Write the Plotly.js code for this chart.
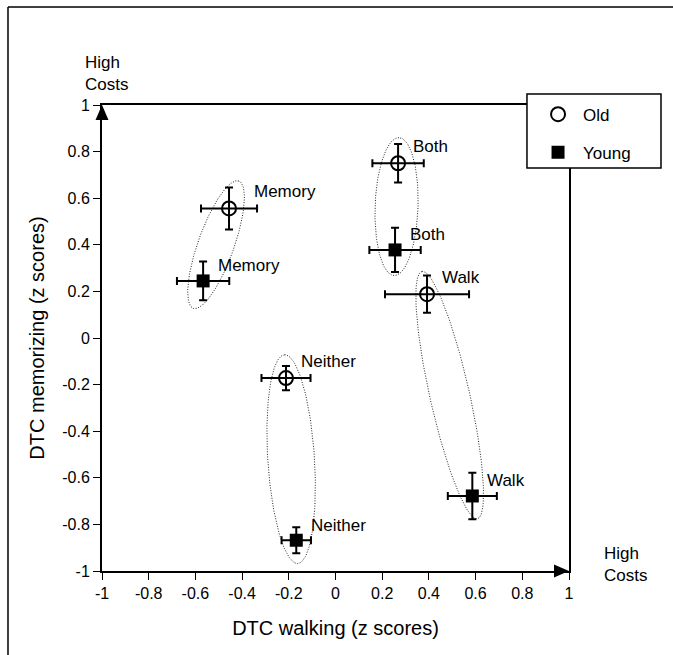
<!DOCTYPE html>
<html>
<head>
<meta charset="utf-8">
<script src="https://cdn.plot.ly/plotly-3.0.1.min.js"></script>
<style>html,body{margin:0;padding:0;background:#fff;}</style>
</head>
<body>
<div id="chart" style="width:673px;height:655px;"></div>
<script>
// Conditions
const conditions = ["Memory", "Both", "Walk", "Neither"];
// Old group means and SEs
const oldX  = [-0.456, 0.268, 0.392, -0.212];
const oldY  = [0.556, 0.750, 0.188, -0.172];
const oldEX = [0.120, 0.110, 0.180, 0.105];
const oldEY = [0.090, 0.083, 0.080, 0.052];
// Young group means and SEs
const youngX  = [-0.567, 0.255, 0.586, -0.168];
const youngY  = [0.245, 0.378, -0.678, -0.868];
const youngEX = [0.112, 0.110, 0.105, 0.063];
const youngEY = [0.083, 0.095, 0.100, 0.056];
// Tick labels
const tickVals = [-1, -0.8, -0.6, -0.4, -0.2, 0, 0.2, 0.4, 0.6, 0.8, 1];
const tickText = ["-1", "-0.8", "-0.6", "-0.4", "-0.2", "0", "0.2", "0.4", "0.6", "0.8", "1"];

const FONT = "Liberation Sans, Arial, Helvetica, sans-serif";

// Dotted ellipses enclosing each Old/Young pair
const ellPad = [0.125, 0.11, 0.10, 0.10];
const ellMinor = [0.077, 0.092, 0.085, 0.10];
const traces = [];
conditions.forEach((c, i) => {
  const cx = (oldX[i] + youngX[i]) / 2, cy = (oldY[i] + youngY[i]) / 2;
  const dx = oldX[i] - youngX[i], dy = oldY[i] - youngY[i];
  const d = Math.hypot(dx, dy);
  const ux = dx / d, uy = dy / d, vx = -uy, vy = ux;
  const a = d / 2 + ellPad[i], b = ellMinor[i];
  const xs = [], ys = [];
  for (let k = 0; k <= 160; k++) {
    const t = 2 * Math.PI * k / 160;
    xs.push(cx + a * Math.cos(t) * ux + b * Math.sin(t) * vx);
    ys.push(cy + a * Math.cos(t) * uy + b * Math.sin(t) * vy);
  }
  traces.push({x: xs, y: ys, mode: "lines", type: "scatter", showlegend: false,
    hoverinfo: "skip", line: {color: "#222", width: 1, dash: "1px,1.6px"}});
});

traces.push({
  name: "Old", x: oldX, y: oldY, mode: "markers", type: "scatter", legendgroup: "o",
  marker: {symbol: "circle-open", size: 14, color: "#000", line: {width: 2, color: "#000"}},
  error_x: {type: "data", array: oldEX, visible: true, color: "#000", thickness: 2, width: 4},
  error_y: {type: "data", array: oldEY, visible: true, color: "#000", thickness: 2, width: 4}
});
traces.push({
  name: "Young", x: youngX, y: youngY, mode: "markers", type: "scatter", legendgroup: "y",
  marker: {symbol: "square", size: 13, color: "#000"},
  error_x: {type: "data", array: youngEX, visible: true, color: "#000", thickness: 2, width: 4},
  error_y: {type: "data", array: youngEY, visible: true, color: "#000", thickness: 2, width: 4}
});

const annotations = [];
conditions.forEach((c, i) => {
  annotations.push({x: oldX[i], y: oldY[i], text: c, showarrow: false, xanchor: "left",
    yanchor: "middle", xshift: i === 0 ? 23 : 13, yshift: 17, font: {family: FONT, size: 17, color: "#000"}});
  annotations.push({x: youngX[i], y: youngY[i], text: c, showarrow: false, xanchor: "left",
    yanchor: "middle", xshift: 13, yshift: 15, font: {family: FONT, size: 17, color: "#000"}});
});
annotations.push({xref: "paper", yref: "paper", x: -0.04, y: 1.067, text: "High<br>Costs",
  showarrow: false, xanchor: "left", yanchor: "middle", align: "left",
  font: {family: FONT, size: 17, color: "#000"}});
annotations.push({xref: "paper", yref: "paper", x: 1.071, y: 0.013, text: "High<br>Costs",
  showarrow: false, xanchor: "left", yanchor: "middle", align: "left",
  font: {family: FONT, size: 17, color: "#000"}});

const shapes = [
  // arrow heads at axis ends
  {type: "path", xref: "paper", yref: "paper", xsizemode: "pixel", ysizemode: "pixel",
   xanchor: 0, yanchor: 1, path: "M -6.5,-15 L 6.5,-15 L 0,0 Z", fillcolor: "#000", line: {width: 0}},
  {type: "path", xref: "paper", yref: "paper", xsizemode: "pixel", ysizemode: "pixel",
   xanchor: 1, yanchor: 0, path: "M -15,-6.5 L -15,6.5 L 0,0 Z", fillcolor: "#000", line: {width: 0}},
  // legend box
  {type: "rect", xref: "paper", yref: "paper", x0: 0.910, x1: 1.197, y0: 0.865, y1: 1.0236,
   fillcolor: "#fff", line: {color: "#000", width: 1.5}, layer: "above"},
  // figure frame (top and left)
  {type: "line", xref: "paper", yref: "paper", x0: -0.2013, x1: 1.25, y0: 1.2103, y1: 1.2103, line: {color: "#000", width: 1.5}},
  {type: "line", xref: "paper", yref: "paper", x0: -0.2013, x1: -0.2013, y0: 1.2103, y1: -0.2, line: {color: "#000", width: 1.5}}
];

const axisCommon = {
  range: [-1, 1], tickvals: tickVals, ticktext: tickText, ticks: "outside", ticklen: 7,
  tickwidth: 1, tickcolor: "#000", showline: true, linecolor: "#000", linewidth: 2,
  mirror: true, showgrid: false, zeroline: false,
  tickfont: {family: FONT, size: 16, color: "#000"}
};

const layout = {
  width: 673, height: 655,
  margin: {l: 102, r: 104, t: 105, b: 84},
  paper_bgcolor: "#fff", plot_bgcolor: "#fff",
  xaxis: Object.assign({}, axisCommon, {
    title: {text: "DTC walking (z scores)", font: {family: FONT, size: 20, color: "#000"}, standoff: 20}
  }),
  yaxis: Object.assign({}, axisCommon, {
    title: {text: "DTC memorizing (z scores)", font: {family: FONT, size: 20, color: "#000"}, standoff: 12}
  }),
  showlegend: true,
  legend: {x: 0.923, y: 1.018, xanchor: "left", yanchor: "top", bgcolor: "rgba(0,0,0,0)",
    borderwidth: 0, traceorder: "grouped", tracegroupgap: 13,
    font: {family: FONT, size: 17, color: "#000"}, itemwidth: 40},
  annotations: annotations,
  shapes: shapes
};

Plotly.newPlot("chart", traces, layout, {displayModeBar: false, staticPlot: true});
</script>
</body>
</html>
